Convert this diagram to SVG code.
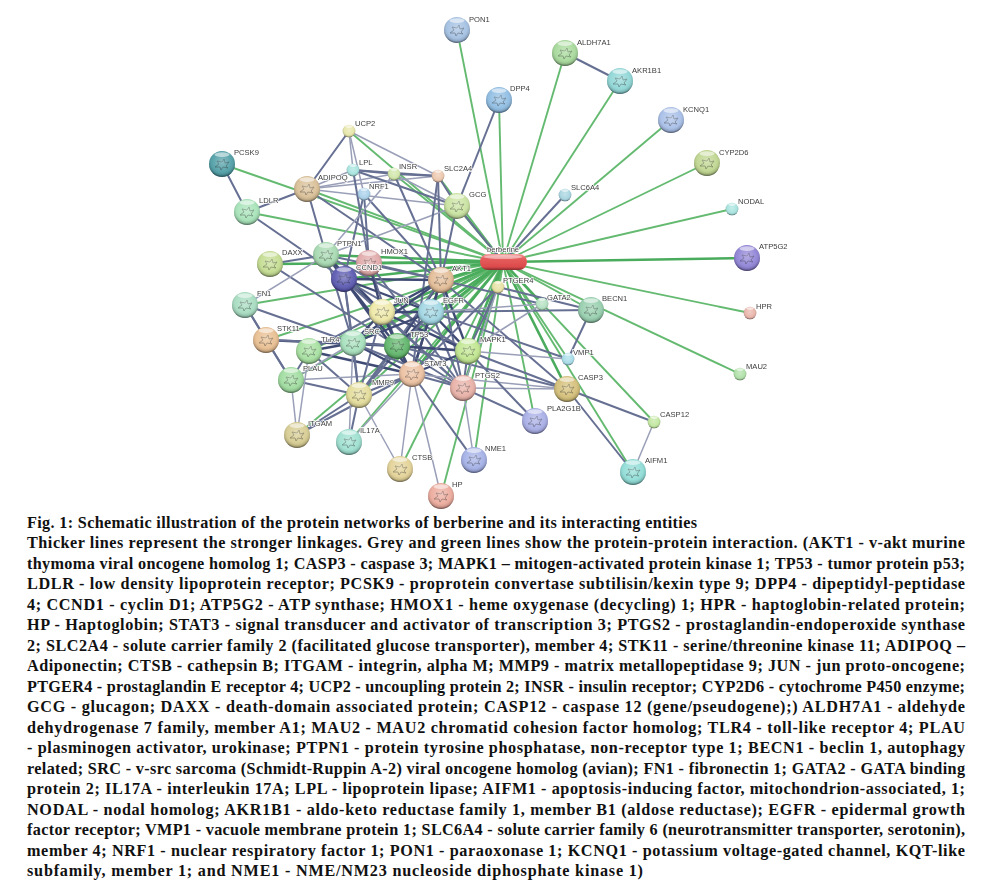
<svg xmlns="http://www.w3.org/2000/svg" width="981" height="884" viewBox="0 0 981 884">
<style>
.g{stroke:#64ba70;stroke-width:1.9;fill:none}
.h{stroke:#4aab5c;stroke-width:2.6;fill:none}
.a{stroke:#414c74;stroke-width:2.4;fill:none}
.b{stroke:#666f92;stroke-width:2;fill:none}
.c{stroke:#9a9fb8;stroke-width:1.5;fill:none}
.l{font:7.6px "Liberation Sans",Arial,sans-serif;fill:#3c3c3c;stroke:#fff;stroke-width:1.6;paint-order:stroke}
.t{font:bold 16.2px "Liberation Serif","Times New Roman",serif;fill:#111}
</style>
<defs>
<radialGradient id="sh" cx=".5" cy=".42" r=".6">
<stop offset="0" stop-color="#fff" stop-opacity=".34"/>
<stop offset=".62" stop-color="#fff" stop-opacity=".06"/>
<stop offset=".84" stop-color="#000" stop-opacity=".16"/>
<stop offset="1" stop-color="#14141f" stop-opacity=".72"/>
</radialGradient>
<linearGradient id="rd" x1="0" y1="0" x2="0" y2="1">
<stop offset="0" stop-color="#f4a3a3"/>
<stop offset=".28" stop-color="#e65e5e"/>
<stop offset=".8" stop-color="#dc4b4b"/>
<stop offset="1" stop-color="#872a2b"/>
</linearGradient>
<filter id="bl" x="-5%" y="-5%" width="110%" height="110%"><feGaussianBlur stdDeviation=".45"/></filter>
<g id="big">
<circle r="13" fill="currentColor"/>
<path d="M-7 3l4-3-2-3 5 1 2-3 1 4 4-1-3 4 2 2-5-1-2 3-1-3z" fill="none" stroke="currentColor" stroke-width=".9" style="filter:brightness(.62)"/>
<circle r="13" fill="url(#sh)"/>
<ellipse cy="-9.4" rx="7.5" ry="2.4" fill="#fff" opacity=".55"/>
</g>
<g id="sm">
<circle r="6.3" fill="currentColor"/>
<circle r="6.3" fill="url(#sh)"/>
<ellipse cy="-4.4" rx="3.6" ry="1.3" fill="#fff" opacity=".6"/>
</g>
</defs>
<rect width="981" height="884" fill="#fff"/>
<g filter="url(#bl)">
<g id="connectors">
<line class="g" x1="503" y1="262" x2="457" y2="30"/>
<line class="g" x1="503" y1="262" x2="565" y2="53"/>
<line class="g" x1="503" y1="262" x2="620" y2="81"/>
<line class="g" x1="503" y1="262" x2="499" y2="100"/>
<line class="g" x1="503" y1="262" x2="671" y2="120"/>
<line class="g" x1="503" y1="262" x2="707" y2="163"/>
<line class="g" x1="503" y1="262" x2="732" y2="209"/>
<line class="h" x1="503" y1="262" x2="747" y2="258"/>
<line class="g" x1="503" y1="262" x2="750" y2="313"/>
<line class="g" x1="503" y1="262" x2="740" y2="374"/>
<line class="g" x1="503" y1="262" x2="591" y2="310"/>
<line class="g" x1="503" y1="262" x2="654" y2="422"/>
<line class="g" x1="503" y1="262" x2="633" y2="472"/>
<line class="h" x1="503" y1="262" x2="567" y2="389"/>
<line class="g" x1="503" y1="262" x2="535" y2="421"/>
<line class="h" x1="503" y1="262" x2="498" y2="287"/>
<line class="h" x1="503" y1="262" x2="542" y2="304"/>
<line class="g" x1="503" y1="262" x2="568" y2="359"/>
<line class="g" x1="503" y1="262" x2="474" y2="460"/>
<line class="g" x1="503" y1="262" x2="441" y2="496"/>
<line class="g" x1="503" y1="262" x2="400" y2="469"/>
<line class="g" x1="503" y1="262" x2="297" y2="435"/>
<line class="g" x1="503" y1="262" x2="349" y2="442"/>
<line class="g" x1="503" y1="262" x2="359" y2="395"/>
<line class="h" x1="503" y1="262" x2="412" y2="374"/>
<line class="h" x1="503" y1="262" x2="463" y2="388"/>
<line class="h" x1="503" y1="262" x2="468" y2="351"/>
<line class="h" x1="503" y1="262" x2="397" y2="346"/>
<line class="h" x1="503" y1="262" x2="353" y2="343"/>
<line class="g" x1="503" y1="262" x2="309" y2="351"/>
<line class="g" x1="503" y1="262" x2="291" y2="380"/>
<line class="g" x1="503" y1="262" x2="266" y2="340"/>
<line class="g" x1="503" y1="262" x2="245" y2="305"/>
<line class="h" x1="503" y1="262" x2="270" y2="264"/>
<line class="g" x1="503" y1="262" x2="222" y2="164"/>
<line class="g" x1="503" y1="262" x2="247" y2="212"/>
<line class="g" x1="503" y1="262" x2="307" y2="189"/>
<line class="h" x1="503" y1="262" x2="457" y2="206"/>
<line class="g" x1="503" y1="262" x2="438" y2="176"/>
<line class="g" x1="503" y1="262" x2="394" y2="174"/>
<line class="g" x1="503" y1="262" x2="349" y2="131"/>
<line class="h" x1="503" y1="262" x2="369" y2="263"/>
<line class="h" x1="503" y1="262" x2="344" y2="279"/>
<line class="h" x1="503" y1="262" x2="326" y2="255"/>
<line class="h" x1="503" y1="262" x2="441" y2="280"/>
<line class="h" x1="503" y1="262" x2="431" y2="312"/>
<line class="h" x1="503" y1="262" x2="382" y2="312"/>
<line class="b" x1="565" y1="53" x2="620" y2="81"/>
<line class="b" x1="499" y1="100" x2="457" y2="206"/>
<line class="b" x1="565" y1="195" x2="503" y2="262"/>
<line class="b" x1="222" y1="164" x2="247" y2="212"/>
<line class="b" x1="247" y1="212" x2="307" y2="189"/>
<line class="b" x1="247" y1="212" x2="344" y2="279"/>
<line class="b" x1="349" y1="131" x2="307" y2="189"/>
<line class="c" x1="349" y1="131" x2="353" y2="170"/>
<line class="c" x1="349" y1="131" x2="364" y2="194"/>
<line class="c" x1="349" y1="131" x2="438" y2="176"/>
<line class="c" x1="307" y1="189" x2="353" y2="170"/>
<line class="c" x1="307" y1="189" x2="394" y2="174"/>
<line class="c" x1="307" y1="189" x2="438" y2="176"/>
<line class="b" x1="307" y1="189" x2="326" y2="255"/>
<line class="b" x1="307" y1="189" x2="441" y2="280"/>
<line class="c" x1="307" y1="189" x2="457" y2="206"/>
<line class="b" x1="353" y1="170" x2="394" y2="174"/>
<line class="b" x1="353" y1="170" x2="438" y2="176"/>
<line class="b" x1="353" y1="170" x2="457" y2="206"/>
<line class="b" x1="353" y1="170" x2="369" y2="263"/>
<line class="b" x1="394" y1="174" x2="438" y2="176"/>
<line class="b" x1="394" y1="174" x2="441" y2="280"/>
<line class="c" x1="394" y1="174" x2="457" y2="206"/>
<line class="b" x1="438" y1="176" x2="441" y2="280"/>
<line class="b" x1="438" y1="176" x2="457" y2="206"/>
<line class="b" x1="457" y1="206" x2="441" y2="280"/>
<line class="b" x1="457" y1="206" x2="503" y2="262"/>
<line class="c" x1="457" y1="206" x2="326" y2="255"/>
<line class="b" x1="364" y1="194" x2="369" y2="263"/>
<line class="b" x1="364" y1="194" x2="344" y2="279"/>
<line class="b" x1="364" y1="194" x2="441" y2="280"/>
<line class="c" x1="394" y1="174" x2="326" y2="255"/>
<line class="b" x1="438" y1="176" x2="412" y2="374"/>
<line class="b" x1="270" y1="264" x2="326" y2="255"/>
<line class="b" x1="270" y1="264" x2="397" y2="346"/>
<line class="c" x1="245" y1="305" x2="326" y2="255"/>
<line class="b" x1="245" y1="305" x2="266" y2="340"/>
<line class="b" x1="245" y1="305" x2="353" y2="343"/>
<line class="b" x1="245" y1="305" x2="291" y2="380"/>
<line class="b" x1="266" y1="340" x2="291" y2="380"/>
<line class="a" x1="266" y1="340" x2="397" y2="346"/>
<line class="b" x1="266" y1="340" x2="353" y2="343"/>
<line class="a" x1="309" y1="351" x2="353" y2="343"/>
<line class="a" x1="309" y1="351" x2="412" y2="374"/>
<line class="b" x1="309" y1="351" x2="359" y2="395"/>
<line class="b" x1="309" y1="351" x2="291" y2="380"/>
<line class="c" x1="291" y1="380" x2="353" y2="343"/>
<line class="b" x1="291" y1="380" x2="359" y2="395"/>
<line class="c" x1="291" y1="380" x2="412" y2="374"/>
<line class="c" x1="291" y1="380" x2="297" y2="435"/>
<line class="c" x1="309" y1="351" x2="297" y2="435"/>
<line class="b" x1="359" y1="395" x2="297" y2="435"/>
<line class="b" x1="412" y1="374" x2="297" y2="435"/>
<line class="b" x1="359" y1="395" x2="349" y2="442"/>
<line class="c" x1="412" y1="374" x2="349" y2="442"/>
<line class="c" x1="353" y1="343" x2="349" y2="442"/>
<line class="c" x1="359" y1="395" x2="400" y2="469"/>
<line class="c" x1="412" y1="374" x2="400" y2="469"/>
<line class="c" x1="412" y1="374" x2="441" y2="496"/>
<line class="b" x1="412" y1="374" x2="474" y2="460"/>
<line class="c" x1="463" y1="388" x2="474" y2="460"/>
<line class="a" x1="326" y1="255" x2="344" y2="279"/>
<line class="a" x1="326" y1="255" x2="382" y2="312"/>
<line class="b" x1="326" y1="255" x2="431" y2="312"/>
<line class="b" x1="326" y1="255" x2="353" y2="343"/>
<line class="b" x1="326" y1="255" x2="441" y2="280"/>
<line class="a" x1="344" y1="279" x2="441" y2="280"/>
<line class="a" x1="344" y1="279" x2="382" y2="312"/>
<line class="a" x1="344" y1="279" x2="431" y2="312"/>
<line class="a" x1="344" y1="279" x2="397" y2="346"/>
<line class="a" x1="344" y1="279" x2="412" y2="374"/>
<line class="b" x1="344" y1="279" x2="353" y2="343"/>
<line class="b" x1="344" y1="279" x2="468" y2="351"/>
<line class="b" x1="344" y1="279" x2="463" y2="388"/>
<line class="b" x1="344" y1="279" x2="359" y2="395"/>
<line class="b" x1="369" y1="263" x2="441" y2="280"/>
<line class="b" x1="369" y1="263" x2="397" y2="346"/>
<line class="a" x1="369" y1="263" x2="382" y2="312"/>
<line class="b" x1="369" y1="263" x2="463" y2="388"/>
<line class="a" x1="441" y1="280" x2="382" y2="312"/>
<line class="a" x1="441" y1="280" x2="431" y2="312"/>
<line class="a" x1="441" y1="280" x2="397" y2="346"/>
<line class="a" x1="441" y1="280" x2="353" y2="343"/>
<line class="a" x1="441" y1="280" x2="412" y2="374"/>
<line class="a" x1="441" y1="280" x2="468" y2="351"/>
<line class="b" x1="441" y1="280" x2="463" y2="388"/>
<line class="b" x1="441" y1="280" x2="359" y2="395"/>
<line class="b" x1="441" y1="280" x2="567" y2="389"/>
<line class="b" x1="441" y1="280" x2="542" y2="304"/>
<line class="a" x1="382" y1="312" x2="431" y2="312"/>
<line class="a" x1="382" y1="312" x2="397" y2="346"/>
<line class="a" x1="382" y1="312" x2="353" y2="343"/>
<line class="a" x1="382" y1="312" x2="412" y2="374"/>
<line class="a" x1="382" y1="312" x2="468" y2="351"/>
<line class="b" x1="382" y1="312" x2="463" y2="388"/>
<line class="b" x1="382" y1="312" x2="359" y2="395"/>
<line class="b" x1="382" y1="312" x2="309" y2="351"/>
<line class="a" x1="431" y1="312" x2="397" y2="346"/>
<line class="a" x1="431" y1="312" x2="353" y2="343"/>
<line class="a" x1="431" y1="312" x2="412" y2="374"/>
<line class="a" x1="431" y1="312" x2="468" y2="351"/>
<line class="b" x1="431" y1="312" x2="463" y2="388"/>
<line class="b" x1="431" y1="312" x2="359" y2="395"/>
<line class="b" x1="431" y1="312" x2="591" y2="310"/>
<line class="c" x1="431" y1="312" x2="542" y2="304"/>
<line class="b" x1="431" y1="312" x2="568" y2="359"/>
<line class="a" x1="353" y1="343" x2="397" y2="346"/>
<line class="a" x1="353" y1="343" x2="412" y2="374"/>
<line class="b" x1="353" y1="343" x2="468" y2="351"/>
<line class="b" x1="353" y1="343" x2="359" y2="395"/>
<line class="b" x1="353" y1="343" x2="463" y2="388"/>
<line class="a" x1="397" y1="346" x2="412" y2="374"/>
<line class="a" x1="397" y1="346" x2="468" y2="351"/>
<line class="b" x1="397" y1="346" x2="463" y2="388"/>
<line class="b" x1="397" y1="346" x2="359" y2="395"/>
<line class="b" x1="397" y1="346" x2="567" y2="389"/>
<line class="a" x1="412" y1="374" x2="468" y2="351"/>
<line class="b" x1="412" y1="374" x2="463" y2="388"/>
<line class="b" x1="412" y1="374" x2="359" y2="395"/>
<line class="c" x1="412" y1="374" x2="567" y2="389"/>
<line class="b" x1="468" y1="351" x2="463" y2="388"/>
<line class="b" x1="468" y1="351" x2="567" y2="389"/>
<line class="c" x1="468" y1="351" x2="568" y2="359"/>
<line class="c" x1="468" y1="351" x2="542" y2="304"/>
<line class="b" x1="468" y1="351" x2="498" y2="287"/>
<line class="c" x1="463" y1="388" x2="567" y2="389"/>
<line class="b" x1="463" y1="388" x2="535" y2="421"/>
<line class="b" x1="468" y1="351" x2="535" y2="421"/>
<line class="b" x1="498" y1="287" x2="412" y2="374"/>
<line class="c" x1="498" y1="287" x2="463" y2="388"/>
<line class="b" x1="498" y1="287" x2="591" y2="310"/>
<line class="b" x1="591" y1="310" x2="568" y2="359"/>
<line class="b" x1="567" y1="389" x2="654" y2="422"/>
<line class="b" x1="567" y1="389" x2="633" y2="472"/>
<line class="c" x1="654" y1="422" x2="633" y2="472"/>
</g>
<g id="n-PON1" transform="translate(457,30)" style="color:#a3c0e2"><use href="#big"/><text class="l" x="12" y="-8">PON1</text></g>
<g id="n-ALDH7A1" transform="translate(565,53)" style="color:#a6d99a"><use href="#big"/><text class="l" x="12" y="-8">ALDH7A1</text></g>
<g id="n-AKR1B1" transform="translate(620,81)" style="color:#8fd6d6"><use href="#big"/><text class="l" x="12" y="-8">AKR1B1</text></g>
<g id="n-DPP4" transform="translate(499,100)" style="color:#8fbde3"><use href="#big"/><text class="l" x="11" y="-9">DPP4</text></g>
<g id="n-KCNQ1" transform="translate(671,120)" style="color:#a8bfe8"><use href="#big"/><text class="l" x="12" y="-8">KCNQ1</text></g>
<g id="n-CYP2D6" transform="translate(707,163)" style="color:#bfd68f"><use href="#big"/><text class="l" x="12" y="-8">CYP2D6</text></g>
<g id="n-SLC6A4" transform="translate(565,195)" style="color:#a6d4e0"><use href="#sm"/><text class="l" x="6" y="-5">SLC6A4</text></g>
<g id="n-NODAL" transform="translate(732,209)" style="color:#a6e3de"><use href="#sm"/><text class="l" x="6" y="-5">NODAL</text></g>
<g id="n-ATP5G2" transform="translate(747,258)" style="color:#8f83d6"><use href="#big"/><text class="l" x="12" y="-9">ATP5G2</text></g>
<g id="n-HPR" transform="translate(750,313)" style="color:#e8b3a8"><use href="#sm"/><text class="l" x="6" y="-4">HPR</text></g>
<g id="n-MAU2" transform="translate(740,374)" style="color:#aee0a6"><use href="#sm"/><text class="l" x="6" y="-5">MAU2</text></g>
<g id="n-BECN1" transform="translate(591,310)" style="color:#97cfae"><use href="#big"/><text class="l" x="11" y="-9">BECN1</text></g>
<g id="n-GATA2" transform="translate(542,304)" style="color:#b2e0c0"><use href="#sm"/><text class="l" x="5" y="-4">GATA2</text></g>
<g id="n-VMP1" transform="translate(568,359)" style="color:#a6dce8"><use href="#sm"/><text class="l" x="5" y="-4">VMP1</text></g>
<g id="n-CASP3" transform="translate(567,389)" style="color:#d4bf78"><use href="#big"/><text class="l" x="11" y="-9">CASP3</text></g>
<g id="n-PLA2G1B" transform="translate(535,421)" style="color:#a8aee6"><use href="#big"/><text class="l" x="12" y="-10">PLA2G1B</text></g>
<g id="n-CASP12" transform="translate(654,422)" style="color:#c0e69e"><use href="#sm"/><text class="l" x="6" y="-5">CASP12</text></g>
<g id="n-AIFM1" transform="translate(633,472)" style="color:#8fdcd6"><use href="#big"/><text class="l" x="12" y="-9">AIFM1</text></g>
<g id="n-UCP2" transform="translate(349,131)" style="color:#e6e6a8"><use href="#sm"/><text class="l" x="6" y="-5">UCP2</text></g>
<g id="n-PCSK9" transform="translate(222,164)" style="color:#4f9ea6"><use href="#big"/><text class="l" x="12" y="-9">PCSK9</text></g>
<g id="n-LDLR" transform="translate(247,212)" style="color:#a6e3b8"><use href="#big"/><text class="l" x="12" y="-9">LDLR</text></g>
<g id="n-LPL" transform="translate(353,170)" style="color:#a6e3de"><use href="#sm"/><text class="l" x="6" y="-5">LPL</text></g>
<g id="n-ADIPOQ" transform="translate(307,189)" style="color:#d9bf96"><use href="#big"/><text class="l" x="11" y="-9">ADIPOQ</text></g>
<g id="n-INSR" transform="translate(394,174)" style="color:#cfe6a8"><use href="#sm"/><text class="l" x="5" y="-5">INSR</text></g>
<g id="n-SLC2A4" transform="translate(438,176)" style="color:#ecc6ac"><use href="#sm"/><text class="l" x="6" y="-5">SLC2A4</text></g>
<g id="n-NRF1" transform="translate(364,194)" style="color:#a8d0ea"><use href="#sm"/><text class="l" x="5" y="-5">NRF1</text></g>
<g id="n-GCG" transform="translate(457,206)" style="color:#c9e3a0"><use href="#big"/><text class="l" x="12" y="-9">GCG</text></g>
<g id="n-CCND1" transform="translate(344,279)" style="color:#5a58b0"><use href="#big"/></g>
<g id="n-HMOX1" transform="translate(369,263)" style="color:#e0a8a8"><use href="#big"/><text class="l" x="12" y="-9">HMOX1</text></g>
<text class="l" x="356" y="270">CCND1</text>
<g id="n-PTPN1" transform="translate(326,255)" style="color:#a6d9b0"><use href="#big"/><text class="l" x="11" y="-9">PTPN1</text></g>
<g id="n-DAXX" transform="translate(270,264)" style="color:#c3dc90"><use href="#big"/><text class="l" x="12" y="-9">DAXX</text></g>
<g id="n-FN1" transform="translate(245,305)" style="color:#a6dcc0"><use href="#big"/><text class="l" x="12" y="-9">FN1</text></g>
<g id="n-SRC" transform="translate(353,343)" style="color:#a6e0bc"><use href="#big"/><text class="l" x="11" y="-9">SRC</text></g>
<g id="n-TLR4" transform="translate(309,351)" style="color:#a6e0a0"><use href="#big"/><text class="l" x="12" y="-9">TLR4</text></g>
<g id="n-STK11" transform="translate(266,340)" style="color:#e8be90"><use href="#big"/><text class="l" x="11" y="-9">STK11</text></g>
<g id="n-PLAU" transform="translate(291,380)" style="color:#9fdc9f"><use href="#big"/><text class="l" x="12" y="-9">PLAU</text></g>
<g id="n-ITGAM" transform="translate(297,435)" style="color:#d6cb90"><use href="#big"/><text class="l" x="11" y="-9">ITGAM</text></g>
<g id="n-IL17A" transform="translate(349,442)" style="color:#9de0d0"><use href="#big"/><text class="l" x="11" y="-9">IL17A</text></g>
<g id="n-STAT3" transform="translate(412,374)" style="color:#ecc0a0"><use href="#big"/><text class="l" x="12" y="-8">STAT3</text></g>
<g id="n-MMP9" transform="translate(359,395)" style="color:#e3dc9a"><use href="#big"/><text class="l" x="13" y="-10">MMP9</text></g>
<g id="n-TP53" transform="translate(397,346)" style="color:#5fb56a"><use href="#big"/><text class="l" x="13" y="-9">TP53</text></g>
<g id="n-JUN" transform="translate(382,312)" style="color:#eee8a6"><use href="#big"/><text class="l" x="12" y="-9">JUN</text></g>
<g id="n-EGFR" transform="translate(431,312)" style="color:#a0d6e3"><use href="#big"/><text class="l" x="12" y="-9">EGFR</text></g>
<g id="n-AKT1" transform="translate(441,280)" style="color:#e3bc96"><use href="#big"/><text class="l" x="11" y="-9">AKT1</text></g>
<g id="n-MAPK1" transform="translate(468,351)" style="color:#c0e68f"><use href="#big"/><text class="l" x="12" y="-9">MAPK1</text></g>
<g id="n-PTGS2" transform="translate(463,388)" style="color:#e8b0a6"><use href="#big"/><text class="l" x="12" y="-10">PTGS2</text></g>
<g id="n-NME1" transform="translate(474,460)" style="color:#a3b0e6"><use href="#big"/><text class="l" x="11" y="-9">NME1</text></g>
<g id="n-CTSB" transform="translate(400,469)" style="color:#e3d296"><use href="#big"/><text class="l" x="12" y="-9">CTSB</text></g>
<g id="n-HP" transform="translate(441,496)" style="color:#ecaa9c"><use href="#big"/><text class="l" x="11" y="-9">HP</text></g>
<g id="n-PTGER4" transform="translate(498,287)" style="color:#e6e0a0"><use href="#sm"/><text class="l" x="5" y="-4">PTGER4</text></g>
<g id="n-berberine"><rect x="480" y="254" width="47" height="16" rx="8" fill="url(#rd)"/><ellipse cx="503" cy="257" rx="19" ry="2" fill="#fff" opacity=".45"/><text class="l" x="487" y="252">berberine</text></g>
</g>
<g id="caption">
<text class="t" x="27" y="527.5" textLength="670">Fig. 1: Schematic illustration of the protein networks of berberine and its interacting entities</text>
<text class="t" x="27" y="548" textLength="938">Thicker lines represent the stronger linkages. Grey and green lines show the protein-protein interaction. (AKT1 - v-akt murine</text>
<text class="t" x="27" y="568.5" textLength="938">thymoma viral oncogene homolog 1; CASP3 - caspase 3; MAPK1 – mitogen-activated protein kinase 1; TP53 - tumor protein p53;</text>
<text class="t" x="27" y="589" textLength="938">LDLR - low density lipoprotein receptor; PCSK9 - proprotein convertase subtilisin/kexin type 9; DPP4 - dipeptidyl-peptidase</text>
<text class="t" x="27" y="609.5" textLength="938">4; CCND1 - cyclin D1; ATP5G2 - ATP synthase; HMOX1 - heme oxygenase (decycling) 1; HPR - haptoglobin-related protein;</text>
<text class="t" x="27" y="630" textLength="938">HP - Haptoglobin; STAT3 - signal transducer and activator of transcription 3; PTGS2 - prostaglandin-endoperoxide synthase</text>
<text class="t" x="27" y="650.5" textLength="938">2; SLC2A4 - solute carrier family 2 (facilitated glucose transporter), member 4; STK11 - serine/threonine kinase 11; ADIPOQ –</text>
<text class="t" x="27" y="671" textLength="938">Adiponectin; CTSB - cathepsin B; ITGAM - integrin, alpha M; MMP9 - matrix metallopeptidase 9; JUN - jun proto-oncogene;</text>
<text class="t" x="27" y="691.5" textLength="938">PTGER4 - prostaglandin E receptor 4; UCP2 - uncoupling protein 2; INSR - insulin receptor; CYP2D6 - cytochrome P450 enzyme;</text>
<text class="t" x="27" y="712" textLength="938">GCG - glucagon; DAXX - death-domain associated protein; CASP12 - caspase 12 (gene/pseudogene);) ALDH7A1 - aldehyde</text>
<text class="t" x="27" y="732.5" textLength="938">dehydrogenase 7 family, member A1; MAU2 - MAU2 chromatid cohesion factor homolog; TLR4 - toll-like receptor 4; PLAU</text>
<text class="t" x="27" y="753" textLength="938">- plasminogen activator, urokinase; PTPN1 - protein tyrosine phosphatase, non-receptor type 1; BECN1 - beclin 1, autophagy</text>
<text class="t" x="27" y="773.5" textLength="938">related; SRC - v-src sarcoma (Schmidt-Ruppin A-2) viral oncogene homolog (avian); FN1 - fibronectin 1; GATA2 - GATA binding</text>
<text class="t" x="27" y="794" textLength="938">protein 2; IL17A - interleukin 17A; LPL - lipoprotein lipase; AIFM1 - apoptosis-inducing factor, mitochondrion-associated, 1;</text>
<text class="t" x="27" y="814.5" textLength="938">NODAL - nodal homolog; AKR1B1 - aldo-keto reductase family 1, member B1 (aldose reductase); EGFR - epidermal growth</text>
<text class="t" x="27" y="835" textLength="938">factor receptor; VMP1 - vacuole membrane protein 1; SLC6A4 - solute carrier family 6 (neurotransmitter transporter, serotonin),</text>
<text class="t" x="27" y="855.5" textLength="938">member 4; NRF1 - nuclear respiratory factor 1; PON1 - paraoxonase 1; KCNQ1 - potassium voltage-gated channel, KQT-like</text>
<text class="t" x="27" y="876" textLength="616">subfamily, member 1; and NME1 - NME/NM23 nucleoside diphosphate kinase 1)</text>
</g>
</svg>
